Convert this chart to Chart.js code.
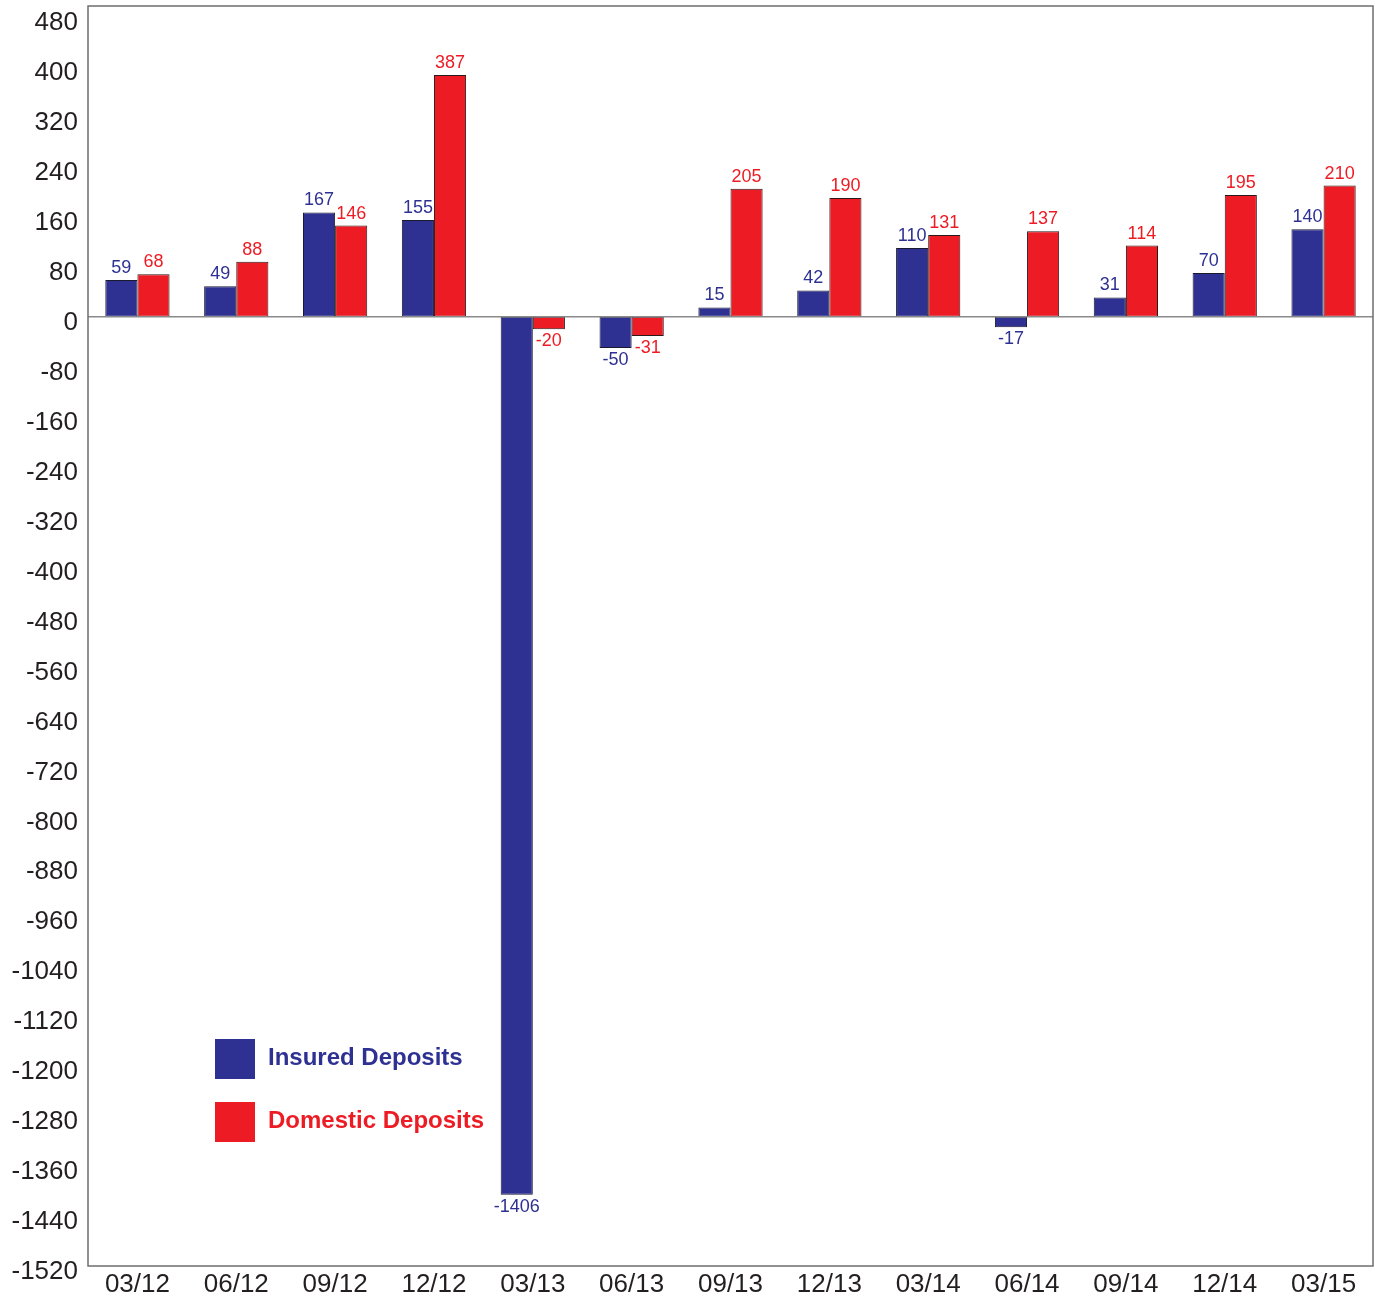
<!DOCTYPE html>
<html>
<head>
<meta charset="utf-8">
<script src="https://cdn.jsdelivr.net/npm/chart.js@4"></script>
<style>
  html, body { margin: 0; padding: 0; background: #fff; }
  #wrap { width: 1375px; height: 1300px; position: relative; }
</style>
</head>
<body>
<div id="wrap"><canvas id="deposits-chart"></canvas></div>
<script>
const quarters = ['03/12', '06/12', '09/12', '12/12', '03/13', '06/13', '09/13', '12/13', '03/14', '06/14', '09/14', '12/14', '03/15'];
const insuredDeposits = [59, 49, 167, 155, -1406, -50, 15, 42, 110, -17, 31, 70, 140];
const domesticDeposits = [68, 88, 146, 387, -20, -31, 205, 190, 131, 137, 114, 195, 210];
const yTicks = [-1520, -1440, -1360, -1280, -1200, -1120, -1040, -960, -880, -800, -720, -640, -560, -480, -400, -320, -240, -160, -80, 0, 80, 160, 240, 320, 400, 480];

const BLUE = '#2e3192';
const RED = '#ed1c24';
const TEXT = '#231f20';
const FONT = '"Liberation Sans", Arial, sans-serif';

// frame round the plot area plus the zero line
const framePlugin = {
    id: 'frame',
    afterDatasetsDraw(chart) {
        const { ctx, chartArea: a, scales } = chart;
        const y0 = scales.y.getPixelForValue(0);
        ctx.save();
        ctx.strokeStyle = '#8a8a8c';
        ctx.lineWidth = 1.5;
        ctx.beginPath();
        ctx.moveTo(a.left, y0);
        ctx.lineTo(a.right, y0);
        ctx.stroke();
        ctx.strokeStyle = '#6d6e71';
        ctx.strokeRect(a.left, a.top, a.right - a.left, a.bottom - a.top);
        ctx.restore();
    }
};

// value printed above positive bars, below negative ones
const valueLabels = {
    id: 'valueLabels',
    afterDatasetsDraw(chart) {
        const ctx = chart.ctx;
        ctx.save();
        ctx.font = '18px ' + FONT;
        ctx.textAlign = 'center';
        chart.data.datasets.forEach((ds, i) => {
            chart.getDatasetMeta(i).data.forEach((bar, j) => {
                const v = ds.data[j];
                ctx.fillStyle = ds.backgroundColor;
                if (v >= 0) {
                    ctx.textBaseline = 'bottom';
                    ctx.fillText(v, bar.x, bar.y - 3);
                } else {
                    ctx.textBaseline = 'top';
                    ctx.fillText(v, bar.x, bar.y + 3);
                }
            });
        });
        ctx.restore();
    }
};

// legend squares in the lower left of the plot
const boxLegend = {
    id: 'boxLegend',
    afterDraw(chart) {
        const ctx = chart.ctx;
        const a = chart.chartArea;
        ctx.save();
        ctx.font = 'bold 24px ' + FONT;
        ctx.textBaseline = 'middle';
        ctx.textAlign = 'left';
        chart.data.datasets.forEach((ds, i) => {
            const x = a.left + 127;
            const y = a.top + 1033 + i * 63;
            ctx.fillStyle = ds.backgroundColor;
            ctx.fillRect(x, y, 40, 40);
            ctx.fillText(ds.label, x + 53, y + 19);
        });
        ctx.restore();
    }
};

new Chart(document.getElementById('deposits-chart'), {
    type: 'bar',
    data: {
        labels: quarters,
        datasets: [{
            label: 'Insured Deposits',
            data: insuredDeposits,
            backgroundColor: BLUE,
            borderColor: '#1a1a2e',
            borderWidth: 1,
            borderSkipped: false
        }, {
            label: 'Domestic Deposits',
            data: domesticDeposits,
            backgroundColor: RED,
            borderColor: '#2a1a1a',
            borderWidth: 1,
            borderSkipped: false
        }]
    },
    options: {
        responsive: true,
        maintainAspectRatio: false,
        animation: false,
        layout: { autoPadding: false, padding: { top: 6, right: 2, left: 0, bottom: 0 } },
        datasets: { bar: { categoryPercentage: 0.65, barPercentage: 1.0 } },
        plugins: {
            legend: { display: false },
            tooltip: { enabled: false }
        },
        scales: {
            x: {
                grid: { display: false, drawTicks: false },
                border: { display: false },
                ticks: {
                    color: TEXT,
                    font: { family: FONT, size: 26 },
                    padding: 3,
                    maxRotation: 0
                },
                afterFit(scale) {
                    scale.height = 34;
                    scale.paddingLeft = 0;
                    scale.paddingRight = 0;
                }
            },
            y: {
                min: -1520,
                max: 497.6,
                grid: { display: false, drawTicks: false },
                border: { display: false },
                afterBuildTicks(scale) {
                    scale.ticks = yTicks.map(v => ({ value: v }));
                },
                ticks: {
                    color: TEXT,
                    font: { family: FONT, size: 26 },
                    padding: 10,
                    labelOffset: 6,
                    callback: v => String(v)
                },
                afterFit(scale) {
                    scale.width = 88;
                    scale.paddingTop = 0;
                    scale.paddingBottom = 0;
                }
            }
        }
    },
    plugins: [framePlugin, valueLabels, boxLegend]
});
</script>
</body>
</html>
